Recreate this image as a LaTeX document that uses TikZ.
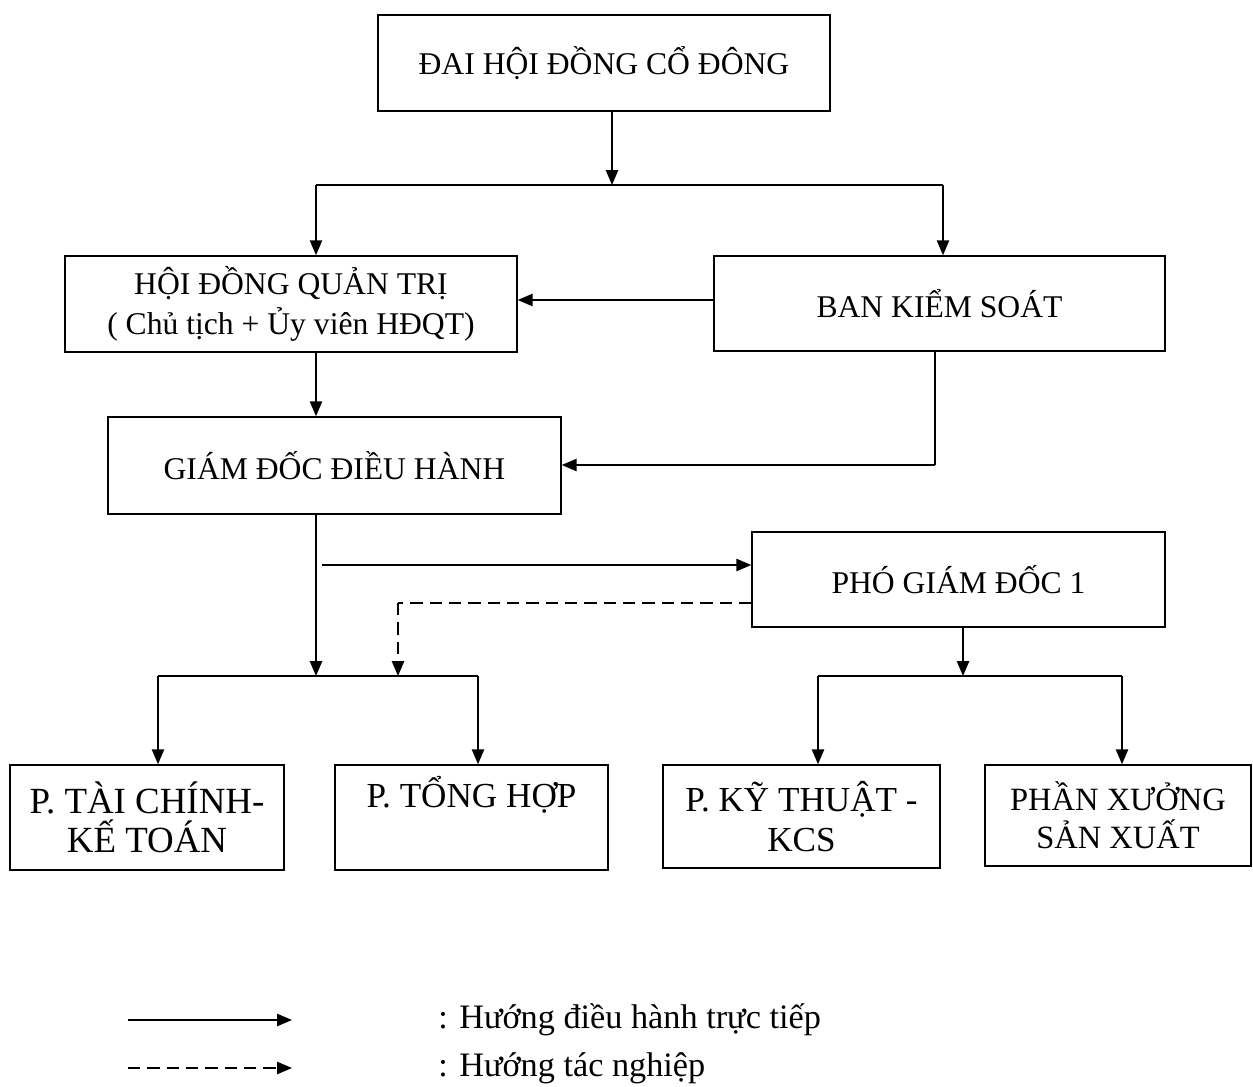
\documentclass[tikz,border=0pt]{standalone}
\usepackage{fontspec}
\setmainfont{Liberation Serif}
\usetikzlibrary{arrows.meta}
\begin{document}
\begin{tikzpicture}[x=0.02cm,y=-0.02cm,
  box/.style={draw, line width=0.9pt, align=center, inner sep=0pt, font=\fontsize{18}{23}\selectfont},
  bigbox/.style={box, font=\fontsize{21}{22}\selectfont},
  conn/.style={line width=0.9pt},
  arr/.style={conn, -{Triangle[length=8.5pt,width=7pt]}},
  darr/.style={arr, dash pattern=on 7pt off 4pt},
  legtext/.style={anchor=west, inner sep=0pt, font=\fontsize{19.5}{22}\selectfont}]
\useasboundingbox (0,0) rectangle (1253,1087);
% boxes
\node[box, minimum width=9.04cm, minimum height=1.92cm] (dhd) at (604,63) {ĐAI HỘI ĐỒNG CỔ ĐÔNG};
\node[box, minimum width=9.04cm, minimum height=1.92cm] (hdqt) at (291,304) {HỘI ĐỒNG QUẢN TRỊ\\( Chủ tịch + Ủy viên HĐQT)};
\node[box, minimum width=9.02cm, minimum height=1.90cm] (bks) at (939.5,303.5) {BAN KIỂM SOÁT};
\node[box, minimum width=9.06cm, minimum height=1.94cm] (gd) at (334.5,465.5) {GIÁM ĐỐC ĐIỀU HÀNH};
\node[box, minimum width=8.26cm, minimum height=1.90cm] (pgd) at (958.5,579.5) {PHÓ GIÁM ĐỐC 1};
\node[bigbox, minimum width=5.48cm, minimum height=2.10cm] (tc) at (147,817.5) {P. TÀI CHÍNH-\\KẾ TOÁN};
\node[bigbox, font=\fontsize{20}{22}\selectfont, minimum width=5.46cm, minimum height=2.10cm] (th) at (471.5,817.5) {P. TỔNG HỢP\\\strut};
\node[bigbox, font=\fontsize{20}{23}\selectfont, minimum width=5.54cm, minimum height=2.06cm] (kt) at (801.5,816.5) {P. KỸ THUẬT -\\KCS};
\node[bigbox, font=\fontsize{18.5}{21.5}\selectfont, minimum width=5.32cm, minimum height=2.02cm] (px) at (1118,815.5) {PHẦN XƯỞNG\\SẢN XUẤT};
% junctions
\coordinate (j1) at (612,185);
\coordinate (j1l) at (316,185);
\coordinate (j1r) at (943,185);
\coordinate (k1) at (935,465);
\coordinate (j2) at (316,676);
\coordinate (j2l) at (158,676);
\coordinate (j2r) at (478,676);
\coordinate (j2d) at (398,676);
\coordinate (a1) at (322,565);
\coordinate (d1) at (398,603);
\coordinate (j3) at (963,676);
\coordinate (j3l) at (818,676);
\coordinate (j3r) at (1122,676);
% connectors
\draw[arr] (dhd.south -| j1) -- (j1);
\draw[conn] (j1l) -- (j1r);
\draw[arr] (j1l) -- (j1l |- hdqt.north);
\draw[arr] (j1r) -- (j1r |- bks.north);
\draw[arr] (bks.west |- 0,300) -- (hdqt.east |- 0,300);
\draw[arr] (hdqt.south -| j1l) -- (j1l |- gd.north);
\draw[conn] (bks.south -| k1) -- (k1);
\draw[arr] (k1) -- (k1 -| gd.east);
\draw[arr] (gd.south -| j2) -- (j2);
\draw[arr] (a1) -- (a1 -| pgd.west);
\draw[dash pattern=on 7pt off 4pt, line width=0.9pt] (pgd.west |- d1) -- (d1);
\draw[darr] (d1) -- (j2d);
\draw[conn] (j2l) -- (j2r);
\draw[arr] (j2l) -- (j2l |- tc.north);
\draw[arr] (j2r) -- (j2r |- th.north);
\draw[arr] (pgd.south -| j3) -- (j3);
\draw[conn] (j3l) -- (j3r);
\draw[arr] (j3l) -- (j3l |- kt.north);
\draw[arr] (j3r) -- (j3r |- px.north);
% legend
\coordinate (ls1) at (128,1020);
\coordinate (le1) at (292,1020);
\coordinate (ls2) at (128,1068);
\coordinate (le2) at (292,1068);
\draw[arr] (ls1) -- (le1);
\draw[darr] (ls2) -- (le2);
\node[legtext] (lt1) at (438,1020) {: Hướng điều hành trực tiếp};
\node[legtext] (lt2) at (438,1068) {: Hướng tác nghiệp};
\end{tikzpicture}
\end{document}
